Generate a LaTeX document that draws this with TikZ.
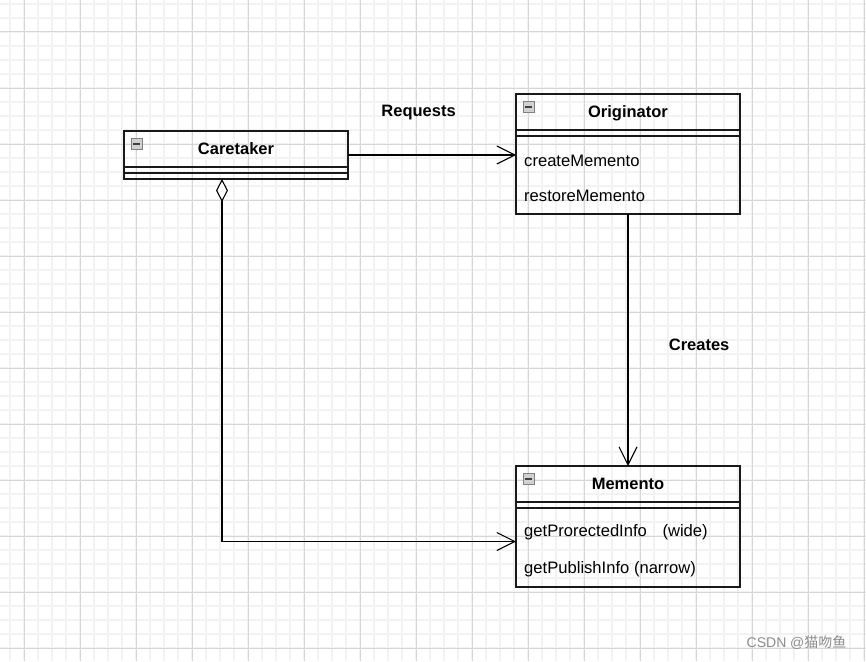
\documentclass[tikz,border=0pt]{standalone}
\usepackage{fontspec}
\setmainfont{Liberation Sans}
\newfontfamily\cjkfont{Noto Sans CJK SC}
\usetikzlibrary{arrows.meta,positioning}

\begin{document}
\begin{tikzpicture}[x=1pt,y=-1pt,
    box/.style={draw=black!90,line width=1.2pt,minimum width=224pt,
                inner sep=0pt,outer sep=0pt},
    head/.style={box,minimum height=36pt,text depth=-1.5pt,
                 font=\bfseries\fontsize{16.5}{19}\selectfont},
    attr/.style={box,minimum height=6pt},
    item/.style={anchor=west,inner sep=0pt,font=\fontsize{16.6}{19}\selectfont},
    fold/.style={draw=black!50,fill=black!18,minimum size=11pt,
                 inner sep=0pt,anchor=north west},
    rolelabel/.style={font=\bfseries\fontsize{16.5}{19}\selectfont},
    link/.style={line width=1.1pt,-{Straight Barb[length=18pt,width=18pt]}},
    minorgrid/.style={draw=black!5,line width=1.5pt},
    majorgrid/.style={draw=black!16,line width=1pt}]
%
  \useasboundingbox (0,0) rectangle (866,661);
  \fill [white] (0,0) rectangle (866,661);
%
  \foreach \x in {10,24,...,864} \draw [minorgrid] (\x,0) -- (\x,661);
  \foreach \y in {4,18,...,660} \draw [minorgrid] (0,\y) -- (866,\y);
  \foreach \x in {24,80,...,864} \draw [majorgrid] (\x,0) -- (\x,661);
  \foreach \y in {32,88,...,648} \draw [majorgrid] (0,\y) -- (866,\y);
%
  \node [head,anchor=north west] (care) at (124,131) {Caretaker};
  \node [attr,below=0pt of care] (careattr) {};
  \node [attr,below=0pt of careattr] (careops) {};
%
  \node [head,anchor=north west] (orig) at (516,94) {Originator};
  \node [attr,below=0pt of orig] (origattr) {};
  \node [box,minimum height=78pt,below=0pt of origattr] (origops) {};
  \node [item] (create) at ([xshift=8pt,yshift=-25pt]origops.north west) {createMemento};
  \node [item] (restore) at ([yshift=-35pt]create.west) {restoreMemento};
%
  \node [head,anchor=north west] (mem) at (516,466) {Memento};
  \node [attr,below=0pt of mem] (memattr) {};
  \node [box,minimum height=79pt,below=0pt of memattr] (memops) {};
  \node [item] (wide) at ([xshift=8pt,yshift=-24.5pt]memops.north west)
    {getProrectedInfo\hspace{11pt} (wide)};
  \node [item] (narrow) at ([yshift=-37pt]wide.west) {getPublishInfo (narrow)};
%
  \foreach \c in {care,orig,mem} {
    \node [fold] (\c fold) at ([xshift=7pt,yshift=-7pt]\c.north west) {};
    \draw [line width=1.7pt,black!75]
      ([xshift=2pt]\c fold.west) -- ([xshift=-2pt]\c fold.east);
  }
%
  \coordinate (reqstart) at ([yshift=-6pt]care.east);
  \draw [link] (reqstart) -- (reqstart -| orig.west)
    node [rolelabel,above=31pt,pos=0.42] {Requests};
%
  \draw [link] (origops.south) -- (mem.north)
    node [rolelabel,right=37pt,pos=0.52] {Creates};
%
  \draw [line width=1.1pt,
         {Diamond[open,fill=white,length=23pt,width=12pt]}-{Straight Barb[length=18pt,width=18pt]}]
    ([xshift=-14pt]careops.south) |- ([yshift=6pt]memops.west);
%
  \node [anchor=east,text=black!45,font=\fontsize{14}{16}\selectfont] (mark)
    at (850,643) {CSDN @{\cjkfont 猫吻鱼}};
%
\end{tikzpicture}
\end{document}
